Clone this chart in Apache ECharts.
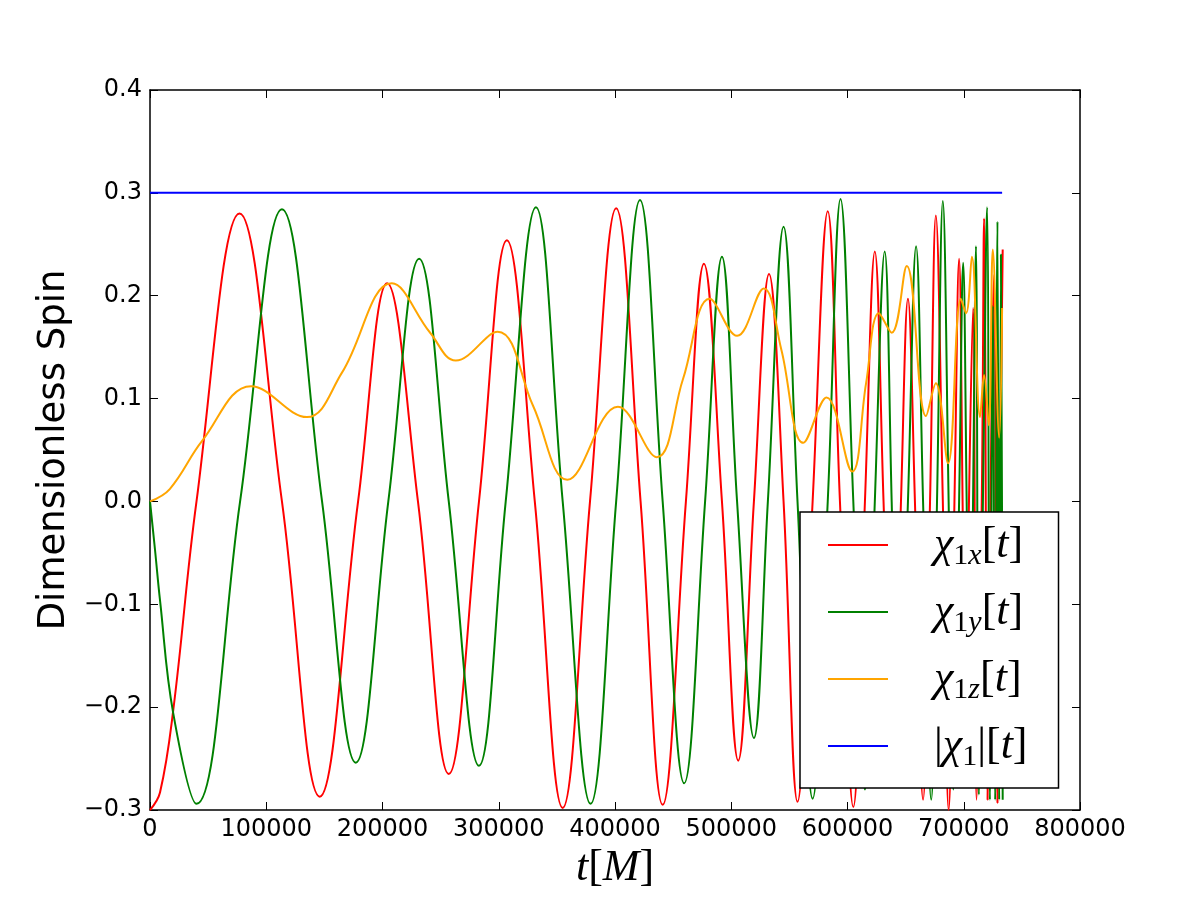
<!DOCTYPE html>
<html>
<head>
<meta charset="utf-8">
<script src="https://cdn.jsdelivr.net/npm/echarts@6.0.0/dist/echarts.min.js"></script>
<style>
  html, body { margin: 0; padding: 0; background: #fff; }
  #chart { width: 1200px; height: 900px; }
</style>
</head>
<body>
<div id="chart"></div>
<script>
// [t (M), value]: extrema plus a few zero crossings
const chi1x = [
  [0, -0.300], [8600, -0.283], [20000, -0.203], [40000, 0.000], [77000, 0.280], [113500, 0.000], [146000, -0.287],
  [179000, 0.000], [204000, 0.212], [230500, 0.000], [257000, -0.265], [283000, 0.000], [307000, 0.254],
  [331000, 0.000], [355000, -0.298], [378500, 0.000], [401000, 0.285], [422000, 0.000], [441000, -0.295],
  [461000, 0.000], [476500, 0.231], [492000, 0.000], [506000, -0.252], [519500, 0.000], [532500, 0.221],
  [545000, 0.000], [557000, -0.292], [570000, 0.000], [583000, 0.282], [593500, 0.000], [605000, -0.297],
  [615000, 0.000], [623500, 0.243], [631000, 0.000], [639000, -0.270], [646000, 0.000], [652000, 0.197],
  [658000, 0.000], [665000, -0.290], [671000, 0.000], [676000, 0.278], [682000, 0.000], [687000, -0.300],
  [692000, 0.000], [696000, 0.236], [699000, 0.000], [701500, -0.270], [704500, 0.000], [708000, 0.188],
  [711000, -0.290], [715500, 0.000], [717500, 0.275], [720500, -0.290], [723000, 0.000], [726000, 0.220],
  [729000, -0.293], [731000, 0.000], [733500, 0.245]
]
const chi1y = [
  [0, 0.000], [4300, -0.047], [8600, -0.096], [20000, -0.206], [40000, -0.294], [77500, 0.000], [113500, 0.284], [148000, 0.000],
  [177000, -0.254], [205000, 0.000], [231500, 0.236], [257000, 0.000], [283000, -0.257], [306000, 0.000],
  [332000, 0.286], [355000, 0.000], [379000, -0.294], [401000, 0.000], [421500, 0.293], [441000, 0.000],
  [459500, -0.274], [477500, 0.000], [492000, 0.238], [505000, 0.000], [519500, -0.230], [531500, 0.000],
  [545000, 0.267], [557000, 0.000], [570000, -0.289], [583000, 0.000], [594000, 0.294], [605000, 0.000],
  [615000, -0.280], [623500, 0.000], [632000, 0.243], [638000, 0.000], [644000, -0.270], [652000, 0.000],
  [659000, 0.248], [665000, 0.000], [672000, -0.290], [677000, 0.000], [682000, 0.292], [687000, 0.000],
  [691000, -0.280], [696000, 0.000], [699500, 0.232], [702500, 0.000], [705500, -0.270], [708000, 0.000],
  [710500, 0.248], [713000, -0.285], [716500, 0.000], [720000, 0.286], [722500, -0.290], [725000, 0.190],
  [727000, -0.290], [729000, 0.272], [730500, -0.290], [732000, 0.240], [733500, -0.290]
]
const chi1z = [
  [0, 0.000], [17000, 0.012], [45000, 0.059], [87000, 0.112], [135000, 0.082], [165000, 0.125],
  [208000, 0.212], [241000, 0.164], [263000, 0.137], [299000, 0.165], [329500, 0.093], [359000, 0.021],
  [402500, 0.092], [436000, 0.043], [458500, 0.119], [481500, 0.197], [505000, 0.161], [528000, 0.207],
  [543000, 0.148], [562000, 0.057], [582000, 0.101], [604000, 0.029], [616000, 0.115], [627000, 0.183],
  [638000, 0.164], [651000, 0.229], [667500, 0.083], [676000, 0.115], [686500, 0.037], [697500, 0.197],
  [702000, 0.183], [707000, 0.238], [714000, 0.082], [717500, 0.123], [721500, 0.074], [725000, 0.245],
  [730500, 0.062], [733000, 0.188]
]
const chi1Mag = [[0, 0.3], [733000, 0.3]]

const seriesNames = ['chi1x', 'chi1y', 'chi1z', 'chi1']
const seriesColors = ['#ff0000', '#008000', '#ffa500', '#0000ff']
const legendText = {
  chi1x: '{i|χ}{s|1}{si|x}{r|[}{i|t}{r|]}',
  chi1y: '{i|χ}{s|1}{si|y}{r|[}{i|t}{r|]}',
  chi1z: '{i|χ}{s|1}{si|z}{r|[}{i|t}{r|]}',
  chi1 : '{r||}{i|χ}{s|1}{r||[}{i|t}{r|]}',
}

const mathFont = 'Liberation Serif'
const rich = {
  i : { fontFamily: mathFont, fontStyle: 'italic', fontSize: 44, lineHeight: 52, color: '#000' },
  r : { fontFamily: mathFont, fontSize: 44, lineHeight: 52, color: '#000' },
  s : { fontFamily: mathFont, fontSize: 30, lineHeight: 30, verticalAlign: 'bottom', color: '#000' },
  si: { fontFamily: mathFont, fontStyle: 'italic', fontSize: 30, lineHeight: 30, verticalAlign: 'bottom', color: '#000' },
}

const tickFont = { fontFamily: 'DejaVu Sans', fontSize: 24, color: '#000' }
const frameLine = { show: true, onZero: false, lineStyle: { color: '#000', width: 1.5 } }
const innerTick = { show: true, inside: true, length: 8, lineStyle: { color: '#000', width: 1 } }

const chart = echarts.init(document.getElementById('chart'), null, { renderer: 'canvas' })

const option = {
  animation: false,
  backgroundColor: '#fff',
  grid: { left: 150, right: 120, top: 90, bottom: 90 },
  xAxis: [{
    type: 'value',
    min: 0,
    max: 800000,
    interval: 100000,
    position: 'bottom',
    axisLine: frameLine,
    axisTick: innerTick,
    splitLine: { show: false },
    axisLabel: { ...tickFont, margin: 8, formatter: v => String(v) },
    name: '{i|t}{r|[}{i|M}{r|]}',
    nameLocation: 'middle',
    nameGap: 30,
    nameTextStyle: { rich },
  }, {
    type: 'value',
    min: 0,
    max: 800000,
    interval: 100000,
    position: 'top',
    axisLine: frameLine,
    axisTick: innerTick,
    splitLine: { show: false },
    axisLabel: { show: false },
  }],
  yAxis: [{
    type: 'value',
    min: -0.3,
    max: 0.4,
    interval: 0.1,
    position: 'left',
    axisLine: frameLine,
    axisTick: innerTick,
    splitLine: { show: false },
    axisLabel: {
      ...tickFont,
      margin: 8,
      formatter: v => (v < -1e-9 ? '\u2212' : '') + Math.abs(v).toFixed(1),
    },
    name: 'Dimensionless Spin',
    nameLocation: 'middle',
    nameGap: 76,
    nameTextStyle: { fontFamily: 'DejaVu Sans', fontSize: 37, color: '#000' },
  }, {
    type: 'value',
    min: -0.3,
    max: 0.4,
    interval: 0.1,
    position: 'right',
    axisLine: frameLine,
    axisTick: innerTick,
    splitLine: { show: false },
    axisLabel: { show: false },
  }],
  legend: {
    orient: 'vertical',
    left: 800,
    top: 512,
    data: seriesNames,
    icon: 'rect',
    itemWidth: 60,
    itemHeight: 2,
    itemGap: 19,
    padding: [11, 31, 16, 28],
    backgroundColor: '#fff',
    borderColor: '#000',
    borderWidth: 1.5,
    borderRadius: 0,
    formatter: name => legendText[name],
    textStyle: { padding: [0, 0, 0, 41], rich },
  },
  series: [chi1x, chi1y, chi1z, chi1Mag].map((d, i) => ({
    name: seriesNames[i],
    type: 'line',
    xAxisIndex: 0,
    yAxisIndex: 0,
    data: d,
    showSymbol: false,
    smooth: 0.4,
    color: seriesColors[i],
    lineStyle: { color: seriesColors[i], width: 2 },
  })),
}

chart.setOption(option)
</script>
</body>
</html>
